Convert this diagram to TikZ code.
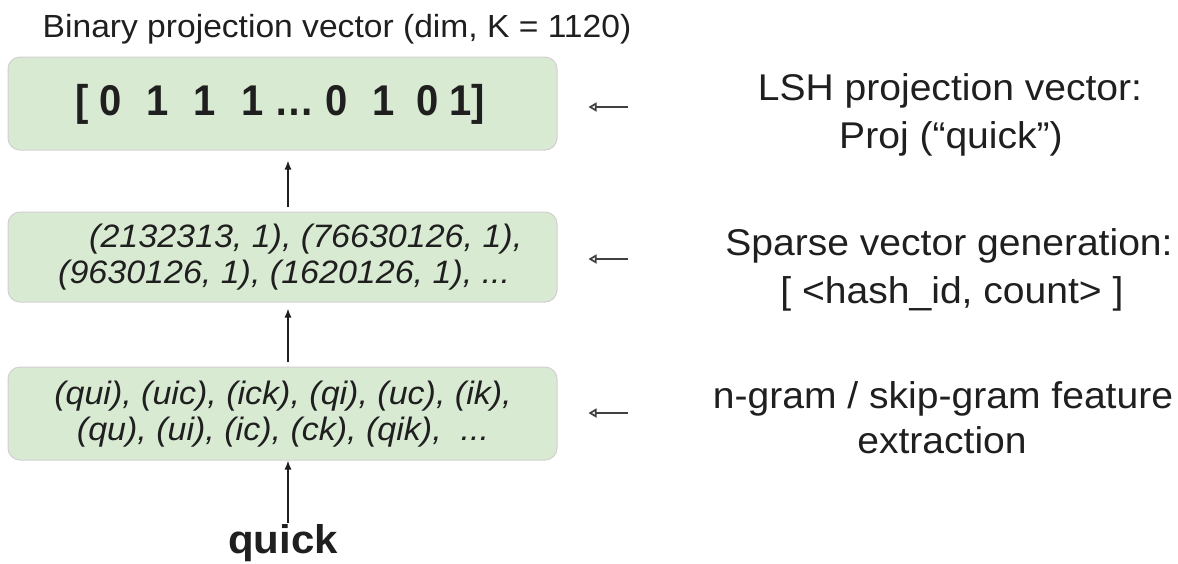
\documentclass[tikz,border=0pt]{standalone}
\usepackage{fontspec}
\setmainfont{Liberation Sans}[FakeStretch=1.05]
\newfontfamily\vecfont{Liberation Sans}[FakeStretch=0.93]
\usetikzlibrary{arrows.meta}
\definecolor{boxgreen}{HTML}{D9EAD3}
\definecolor{ink}{HTML}{1F1F1F}
\begin{document}
\begin{tikzpicture}[x=1pt,y=-1pt,
  box/.style={draw=black!18, line width=1pt, fill=boxgreen, rounded corners=12pt,
    minimum width=549pt, minimum height=93pt, inner sep=0pt},
  up/.style={-{Latex[length=9pt,width=7pt]}, line width=1.4pt, draw=ink},
  side/.style={-{Triangle[open,length=8pt,width=9pt]}, line width=1.7pt, draw=black!75},
  rt/.style={anchor=base, text=ink, inner sep=0pt, font=\fontsize{37.2}{44}\selectfont},
  it/.style={text=ink, inner sep=0pt, font=\fontsize{32.4}{36}\selectfont\itshape}
]
\useasboundingbox (0,0) rectangle (1178,563);

% title
\node[anchor=base, text=ink, inner sep=0pt, font=\fontsize{32}{36}\selectfont] (title) at (337,37)
  {Binary projection vector (dim, K = 1120)};

% boxes
\node[box] (b1) at (282.5,103.5) {};
\node[box, minimum height=90pt] (b2) at (282.5,257) {};
\node[box] (b3) at (282.5,413.5) {};

% box texts
\node[text=ink, inner sep=0pt, font=\vecfont\fontsize{43}{48}\selectfont\bfseries] (v1) at (280,104)
  {[ 0\hspace{25pt}1\hspace{25pt}1\hspace{25pt}1 … 0\hspace{25pt}1\hspace{21pt}0 1]};
\node[it, align=left, anchor=west] (v2) at (58,257)
  {\hspace*{31pt}(2132313, 1), (76630126, 1),\\(9630126, 1), (1620126, 1), ...};
\node[it, align=center] (v3) at (283,414)
  {(qui), (uic), (ick), (qi), (uc), (ik),\\(qu), (ui), (ic), (ck), (qik),\ \ ...};

% input word
\node[anchor=base, text=ink, font=\fontsize{40}{44}\selectfont\bfseries] (q) at (283,553) {quick};

% vertical arrows
\draw[up] ([xshift=5.5pt,yshift=5pt]b2.north) -- ([xshift=5.5pt,yshift=-10pt]b1.south);
\draw[up] ([xshift=5.5pt,yshift=5pt]b3.north) -- ([xshift=5.5pt,yshift=-6pt]b2.south);
\draw[up] ([xshift=5pt,yshift=-3pt]q.north) -- ([xshift=5.5pt]b3.south);

% right-hand descriptions
\node[rt] (l1a) at (950,100) {LSH projection vector:};
\node[rt] (l1b) at (951,148) {Proj (“quick”)};
\node[rt] (l2a) at (949,255) {Sparse vector generation:};
\node[rt] (l2b) at (952,303) {[ <hash\_id, count> ]};
\node[rt] (l3a) at (943,408) {n-gram / skip-gram feature};
\node[rt] (l3b) at (942,453) {extraction};

% side arrows
\coordinate (t1) at (628,107);
\coordinate (t2) at (628,259);
\coordinate (t3) at (628,413);
\draw[side] (t1) -- ([xshift=31pt]b1.east |- t1);
\draw[side] (t2) -- ([xshift=31pt]b2.east |- t2);
\draw[side] (t3) -- ([xshift=31pt]b3.east |- t3);
\end{tikzpicture}
\end{document}
